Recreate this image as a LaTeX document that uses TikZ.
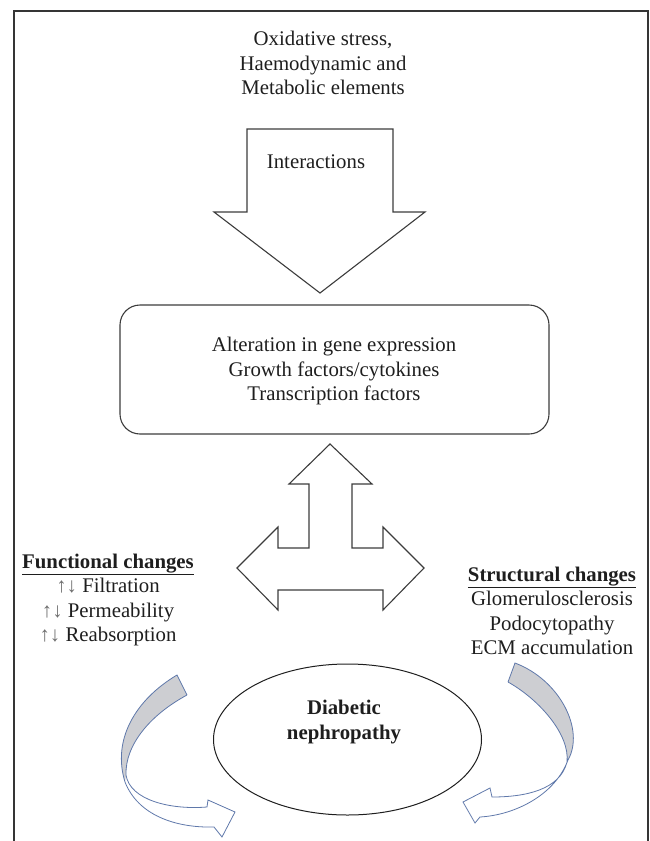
\documentclass[tikz,border=0pt]{standalone}
\usepackage{fontspec}
\setmainfont{Liberation Serif}
\usetikzlibrary{shapes.geometric}
\definecolor{ink}{RGB}{30,30,30}
\definecolor{shapeline}{RGB}{60,60,60}
\definecolor{ribbon}{RGB}{95,120,170}
\definecolor{ribbonfill}{RGB}{205,206,210}
\definecolor{updown}{RGB}{110,110,110}
\newcommand{\updn}{\textcolor{updown}{↑↓}}
\tikzset{
  txt/.style={text=ink, align=center, inner sep=0pt,
    font=\fontsize{20.8pt}{24.5pt}\selectfont},
  outline/.style={draw=shapeline, line width=1.1pt, line join=miter},
  rib/.style={draw=ribbon, line width=0.8pt},
}
\begin{document}
\begin{tikzpicture}[x=1pt,y=-1pt]
\useasboundingbox (0,0) rectangle (650,841);
% frame (open at the bottom)
\draw[draw=ink!90, line width=2.2pt] (14,841) -- (14,11) -- (648,11) -- (648,841);

% top text
\node[txt] (causes) at (323,63) {Oxidative stress,\\Haemodynamic and\\Metabolic elements};

% down arrow
\draw[outline] (247,129) -- (393,129) -- (393,212) -- (425,212) -- (320,293) -- (214,212) -- (247,212) -- cycle;
\node[txt] (inter) at (316,162) {Interactions};

% rounded box
\node[outline, rounded corners=20pt, minimum width=429pt, minimum height=129pt, inner sep=0pt] (box) at (334.5,369.5) {};
\node[txt] (boxtext) at (334,371) {Alteration in gene expression\\Growth factors/cytokines\\Transcription factors};

% triple arrow
\draw[outline] (330,444) -- (372,484) -- (352,484) -- (352,548) -- (383,548) -- (383,527) -- (424,568) -- (383,610) -- (383,590) -- (278,590) -- (278,610) -- (237,568) -- (278,527) -- (278,548) -- (309,548) -- (309,484) -- (289,484) -- cycle;

% side texts
\node[txt] (func) at (108,600) {\textbf{\underline{Functional changes}}\\\updn{} Filtration\\\updn{} Permeability\\\updn{} Reabsorption};
\node[txt] (struct) at (552,611) {\textbf{\underline{Structural changes}}\\Glomerulosclerosis\\Podocytopathy\\ECM accumulation};

% ellipse
\node[draw=ink, line width=1pt, ellipse, minimum width=268pt, minimum height=151pt, inner sep=0pt] (dn) at (347.5,739.5) {};
\node[txt] (dntext) at (344,722) {\textbf{Diabetic}\\\textbf{nephropathy}};

% left curved arrow
\fill[ribbonfill] (177,675) .. controls (135,700) and (112,740) .. (125,782)
  -- (126,775) .. controls (125,745) and (150,715) .. (187,695) -- cycle;
\draw[rib] (187,695) -- (177,675) .. controls (135,700) and (112,740) .. (125,782)
  .. controls (138,815) and (175,828) .. (214,827) -- (222,837) -- (235,812) -- (208,800) -- (207,807)
  .. controls (170,810) and (130,800) .. (126,775)
  .. controls (125,745) and (150,715) .. (187,695);

% right curved arrow
\fill[ribbonfill] (515,663) .. controls (560,680) and (585,730) .. (568,760)
  -- (567,762) .. controls (570,735) and (540,700) .. (508,682) -- cycle;
\draw[rib] (508,682) -- (515,663) .. controls (560,680) and (585,730) .. (568,760)
  .. controls (555,795) and (515,815) .. (480,817) -- (475,823) -- (463,802) -- (490,788) -- (492,797)
  .. controls (525,797) and (560,790) .. (567,762)
  .. controls (570,735) and (540,700) .. (508,682);
\end{tikzpicture}
\end{document}
